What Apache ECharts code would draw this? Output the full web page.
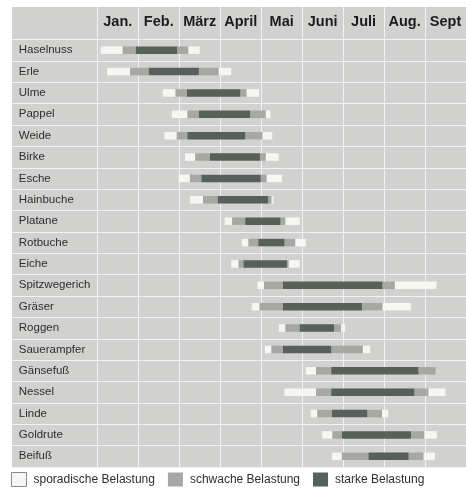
<!DOCTYPE html>
<html>
<head>
<meta charset="utf-8">
<script src="https://cdn.jsdelivr.net/npm/echarts@6/dist/echarts.min.js"></script>
<style>
  html, body { margin: 0; padding: 0; background: #fff; }
  #chart { width: 466px; height: 488px; }
</style>
</head>
<body>
<div id="chart"></div>
<script>
// Pollenflugkalender: Monate als Spalten, Pflanzen als Zeilen
var months = ['Jan.', 'Feb.', 'März', 'April', 'Mai', 'Juni', 'Juli', 'Aug.', 'Sept'];
var plants = ['Haselnuss', 'Erle', 'Ulme', 'Pappel', 'Weide', 'Birke', 'Esche', 'Hainbuche',
  'Platane', 'Rotbuche', 'Eiche', 'Spitzwegerich', 'Gräser', 'Roggen', 'Sauerampfer',
  'Gänsefuß', 'Nessel', 'Linde', 'Goldrute', 'Beifuß'];

// Grenzen in Monaten ab 1. Jan:
// [weiß von, schwach von, stark von, stark bis, schwach bis, weiß bis]
var bounds = [
  [0.08, 0.62, 0.94, 1.95, 2.22, 2.50],
  [0.24, 0.80, 1.26, 2.48, 2.96, 3.27],
  [1.60, 1.91, 2.19, 3.49, 3.64, 3.95],
  [1.82, 2.20, 2.48, 3.73, 4.11, 4.23],
  [1.64, 1.94, 2.20, 3.61, 4.03, 4.27],
  [2.14, 2.39, 2.75, 3.97, 4.11, 4.43],
  [1.99, 2.26, 2.54, 3.99, 4.13, 4.51],
  [2.26, 2.58, 2.94, 4.17, 4.25, 4.30],
  [3.11, 3.29, 3.61, 4.47, 4.59, 4.94],
  [3.53, 3.69, 3.93, 4.57, 4.83, 5.09],
  [3.27, 3.45, 3.57, 4.63, 4.67, 4.94],
  [3.91, 4.07, 4.53, 6.96, 7.26, 8.28],
  [3.77, 3.96, 4.53, 6.46, 6.96, 7.66],
  [4.43, 4.59, 4.94, 5.78, 5.95, 6.05],
  [4.09, 4.25, 4.53, 5.71, 6.48, 6.66],
  [5.09, 5.34, 5.71, 7.84, 8.26, 8.26],
  [4.57, 5.34, 5.71, 7.74, 8.08, 8.50],
  [5.21, 5.37, 5.73, 6.59, 6.95, 7.10],
  [5.49, 5.74, 5.97, 7.66, 7.98, 8.29],
  [5.73, 5.97, 6.62, 7.60, 7.96, 8.24]
];

var levels = ['sporadische Belastung', 'schwache Belastung', 'starke Belastung'];
var levelColors = ['#f6f6f4', '#a7a8a6', '#56615b'];

var FONT = '"Liberation Sans", Arial, Helvetica, sans-serif';
var LINE = '#f2f2f2';

function segments(level) {
  var out = [];
  bounds.forEach(function (b, i) {
    var pairs;
    if (level === 0) pairs = [[b[0], b[1]], [b[4], b[5]]];
    else if (level === 1) pairs = [[b[1], b[2]], [b[3], b[4]]];
    else pairs = [[b[2], b[3]]];
    pairs.forEach(function (p) {
      if (p[1] > p[0]) out.push([p[0], p[1], i]);
    });
  });
  return out;
}

function renderSeg(params, api) {
  var row = api.value(2);
  var a = api.coord([api.value(0), row]);
  var b = api.coord([api.value(1), row]);
  var h = 7.5;
  return {
    type: 'rect',
    shape: { x: a[0], y: a[1] - h / 2, width: b[0] - a[0], height: h },
    style: api.style()
  };
}

var myChart = echarts.init(document.getElementById('chart'));

var option = {
  animation: false,
  textStyle: { fontFamily: FONT },
  graphic: [
    {
      type: 'rect',
      z: -100,
      shape: { x: 12, y: 7, width: 454, height: 460 },
      style: { fill: '#d1d1cf' }
    }
  ],
  grid: { left: 97.3, right: -7.5, top: 39.5, bottom: 21 },
  xAxis: [
    {
      type: 'value',
      position: 'top',
      min: 0,
      max: 9,
      interval: 1,
      axisLine: { show: false },
      axisLabel: { show: false },
      axisTick: { show: true, length: 32.5, lineStyle: { color: LINE, width: 1 } },
      splitLine: { show: true, lineStyle: { color: LINE, width: 1 } }
    },
    {
      type: 'category',
      position: 'top',
      offset: 0,
      data: months,
      boundaryGap: true,
      axisLine: { show: false },
      axisTick: { show: false },
      splitLine: { show: false },
      axisLabel: {
        interval: 0,
        margin: 10,
        fontSize: 14.5,
        fontWeight: 'bold',
        color: '#1c1c1c',
        fontFamily: FONT
      }
    }
  ],
  yAxis: {
    type: 'category',
    data: plants,
    inverse: true,
    axisLine: { show: false },
    axisTick: { show: true, length: 85.3, lineStyle: { color: LINE, width: 1 } },
    splitLine: { show: true, lineStyle: { color: LINE, width: 1 } },
    axisLabel: {
      interval: 0,
      align: 'left',
      margin: 78.5,
      fontSize: 11.5,
      color: '#2e2e2e',
      fontFamily: FONT
    }
  },
  legend: {
    left: 11,
    top: 472,
    padding: 0,
    itemWidth: 15,
    itemHeight: 14,
    itemGap: 13,
    icon: 'rect',
    textStyle: { fontSize: 12, color: '#2e2e2e', fontFamily: FONT, padding: [0, 0, 0, 2] },
    data: [
      { name: levels[0], itemStyle: { color: levelColors[0], borderColor: '#8a8a8a', borderWidth: 1 } },
      { name: levels[1] },
      { name: levels[2] }
    ]
  },
  series: levels.map(function (name, k) {
    return {
      name: name,
      type: 'custom',
      xAxisIndex: 0,
      renderItem: renderSeg,
      encode: { x: [0, 1], y: 2 },
      itemStyle: { color: levelColors[k] },
      data: segments(k)
    };
  })
};

myChart.setOption(option);
</script>
</body>
</html>
